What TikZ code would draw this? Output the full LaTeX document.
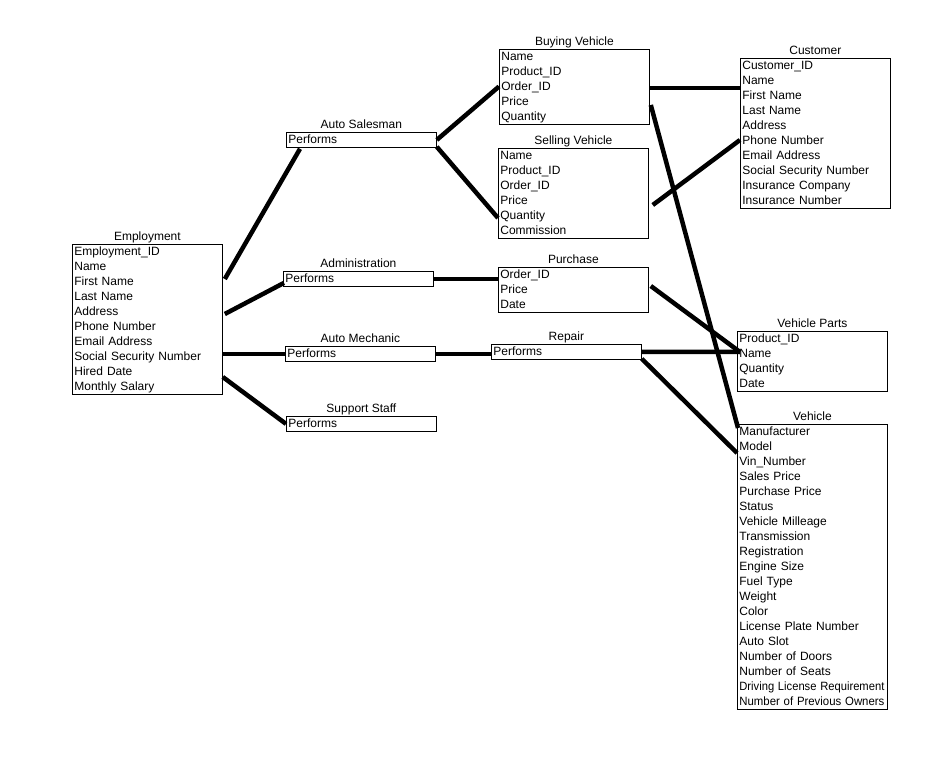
\documentclass[tikz,border=0pt]{standalone}
\usepackage{fontspec}
\usepackage{graphicx}
\setmainfont{Liberation Sans}
\usetikzlibrary{positioning,calc}
\newcommand\rowstrut{\rule[-4pt]{0pt}{15pt}}
\newcommand\fitrow[1]{\resizebox{145pt}{\height}{#1}}

\begin{document}
\begin{tikzpicture}[
 x=1pt, y=-1pt,
 ent/.style={rectangle, draw, line width=0.8pt, anchor=north west, inner xsep=2pt, inner ysep=0pt, text width=146pt, align=left, font=\fontsize{12}{15}\selectfont, execute at begin node=\rowstrut, execute at end node=\rowstrut},
 ttl/.style={inner sep=0pt, text height=9pt, text depth=2.5pt, font=\fontsize{12}{15}\selectfont},
 link/.style={line width=4.5pt},
]
\useasboundingbox (0,0) rectangle (943,762);

\node[ent] (emp) at (72,244) {Employment\_ID\\Name\\First Name\\Last Name\\Address\\Phone Number\\Email Address\\Social Security Number\\Hired Date\\Monthly Salary};
\node[ttl, above=0.5pt of emp] (emp-t) {Employment};

\node[ent] (sal) at (286,132) {Performs};
\node[ttl, above=0.5pt of sal] (sal-t) {Auto Salesman};
\node[ent] (adm) at (283,271) {Performs};
\node[ttl, above=0.5pt of adm] (adm-t) {Administration};
\node[ent] (mech) at (285,346) {Performs};
\node[ttl, above=0.5pt of mech] (mech-t) {Auto Mechanic};
\node[ent] (sup) at (286,416) {Performs};
\node[ttl, above=0.5pt of sup] (sup-t) {Support Staff};

\node[ent] (buy) at (499,49) {Name\\Product\_ID\\Order\_ID\\Price\\Quantity};
\node[ttl, above=0.5pt of buy] (buy-t) {Buying Vehicle};
\node[ent] (sell) at (498,148) {Name\\Product\_ID\\Order\_ID\\Price\\Quantity\\Commission};
\node[ttl, above=0.5pt of sell] (sell-t) {Selling Vehicle};
\node[ent] (pur) at (498,267) {Order\_ID\\Price\\Date};
\node[ttl, above=0.5pt of pur] (pur-t) {Purchase};
\node[ent] (rep) at (491,344) {Performs};
\node[ttl, above=0.5pt of rep] (rep-t) {Repair};

\node[ent] (cust) at (740,58) {Customer\_ID\\Name\\First Name\\Last Name\\Address\\Phone Number\\Email Address\\Social Security Number\\Insurance Company\\Insurance Number};
\node[ttl, above=0.5pt of cust] (cust-t) {Customer};
\node[ent] (part) at (737,331) {Product\_ID\\Name\\Quantity\\Date};
\node[ttl, above=0.5pt of part] (part-t) {Vehicle Parts};
\node[ent] (veh) at (737,424) {Manufacturer\\Model\\Vin\_Number\\Sales Price\\Purchase Price\\Status\\Vehicle Milleage\\Transmission\\Registration\\Engine Size\\Fuel Type\\Weight\\Color\\License Plate Number\\Auto Slot\\Number of Doors\\Number of Seats\\\fitrow{Driving License Requirement}\\\fitrow{Number of Previous Owners}};
\node[ttl, above=0.5pt of veh] (veh-t) {Vehicle};

% Employment to roles
\draw[link] ($(emp.north east)+(2,35)$) -- ($(sal.south west)+(14,1)$);
\draw[link] ($(emp.north east)+(2,70)$) -- ($(adm.west)+(1,4)$);
\draw[link] (emp.east |- mech.west) -- (mech.west);
\draw[link] ($(emp.north east)+(0,133)$) -- (sup.west);

% Roles to tasks
\draw[link] (sal.east) -- ($(buy.north west)+(0,37.5)$);
\draw[link] ($(sal.south east)+(0,-1)$) -- ($(sell.north west)+(0,70)$);
\draw[link] (adm.east) -- (adm.east -| pur.west);
\draw[link] (mech.east) -- (mech.east -| rep.west);

% Tasks to customer, parts, vehicle
\draw[link] ($(buy.north east)+(0,39)$) -- ($(cust.north west)+(0,30)$);
\draw[link] ($(buy.north east)+(1,56)$) -- ($(veh.north west)+(1,4)$);
\draw[link] ($(sell.north east)+(4,57)$) -- ($(cust.north west)+(0,82)$);
\draw[link] ($(pur.north east)+(2,19)$) -- ($(part.north west)+(3,21)$);
\draw[link] (rep.east) -- ($(part.north west)+(3,21)$);
\draw[link] ($(rep.south east)+(0,-1)$) -- ($(veh.north west)+(0,29)$);

\end{tikzpicture}
\end{document}
